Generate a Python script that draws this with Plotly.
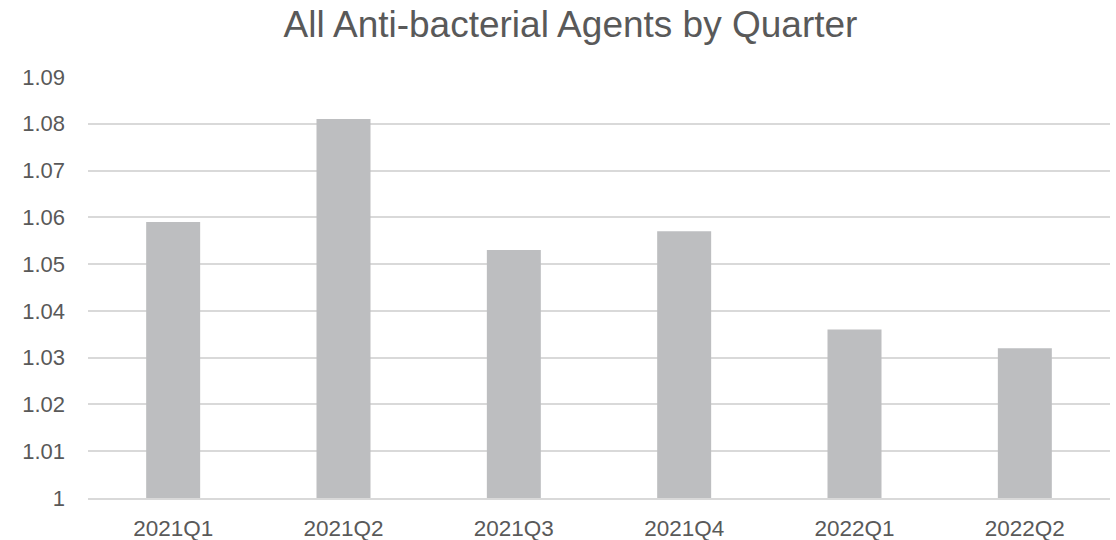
import plotly.graph_objects as go

quarters = ["2021Q1", "2021Q2", "2021Q3", "2021Q4", "2022Q1", "2022Q2"]
values = [1.059, 1.081, 1.053, 1.057, 1.036, 1.032]
y_ticks = [1, 1.01, 1.02, 1.03, 1.04, 1.05, 1.06, 1.07, 1.08, 1.09]
y_tick_labels = ["1", "1.01", "1.02", "1.03", "1.04", "1.05", "1.06", "1.07", "1.08", "1.09"]

FONT = "Liberation Sans, Arial, sans-serif"
TEXT = "#595959"
GRID = "#D9D9D9"

fig = go.Figure(
    go.Bar(
        x=quarters,
        y=values,
        marker=dict(color="#BDBEC0", line=dict(width=0)),
    )
)

fig.update_layout(
    width=1116,
    height=540,
    paper_bgcolor="white",
    plot_bgcolor="white",
    margin=dict(l=88, r=6, t=77, b=42),
    bargap=0.683,
    showlegend=False,
    title=dict(
        text="All Anti-bacterial Agents by Quarter",
        font=dict(family=FONT, size=37, color=TEXT),
        x=570.5 / 1116,
        xref="container",
        xanchor="center",
        y=1 - 24 / 540,
        yref="container",
        yanchor="middle",
    ),
    font=dict(family=FONT, color=TEXT),
)

fig.update_xaxes(
    type="category",
    showgrid=False,
    showline=True,
    linecolor=GRID,
    linewidth=1.5,
    ticks="",
    tickfont=dict(family=FONT, size=22.5, color=TEXT),
    ticklabelstandoff=9,
    automargin=False,
)

fig.update_yaxes(
    range=[1, 1.09],
    tickvals=y_ticks,
    ticktext=y_tick_labels,
    showgrid=True,
    gridcolor=GRID,
    gridwidth=1.5,
    zeroline=False,
    showline=False,
    ticks="",
    tickfont=dict(family=FONT, size=22, color=TEXT),
    ticklabelstandoff=22,
    automargin=False,
)

fig.write_html("out.html")
